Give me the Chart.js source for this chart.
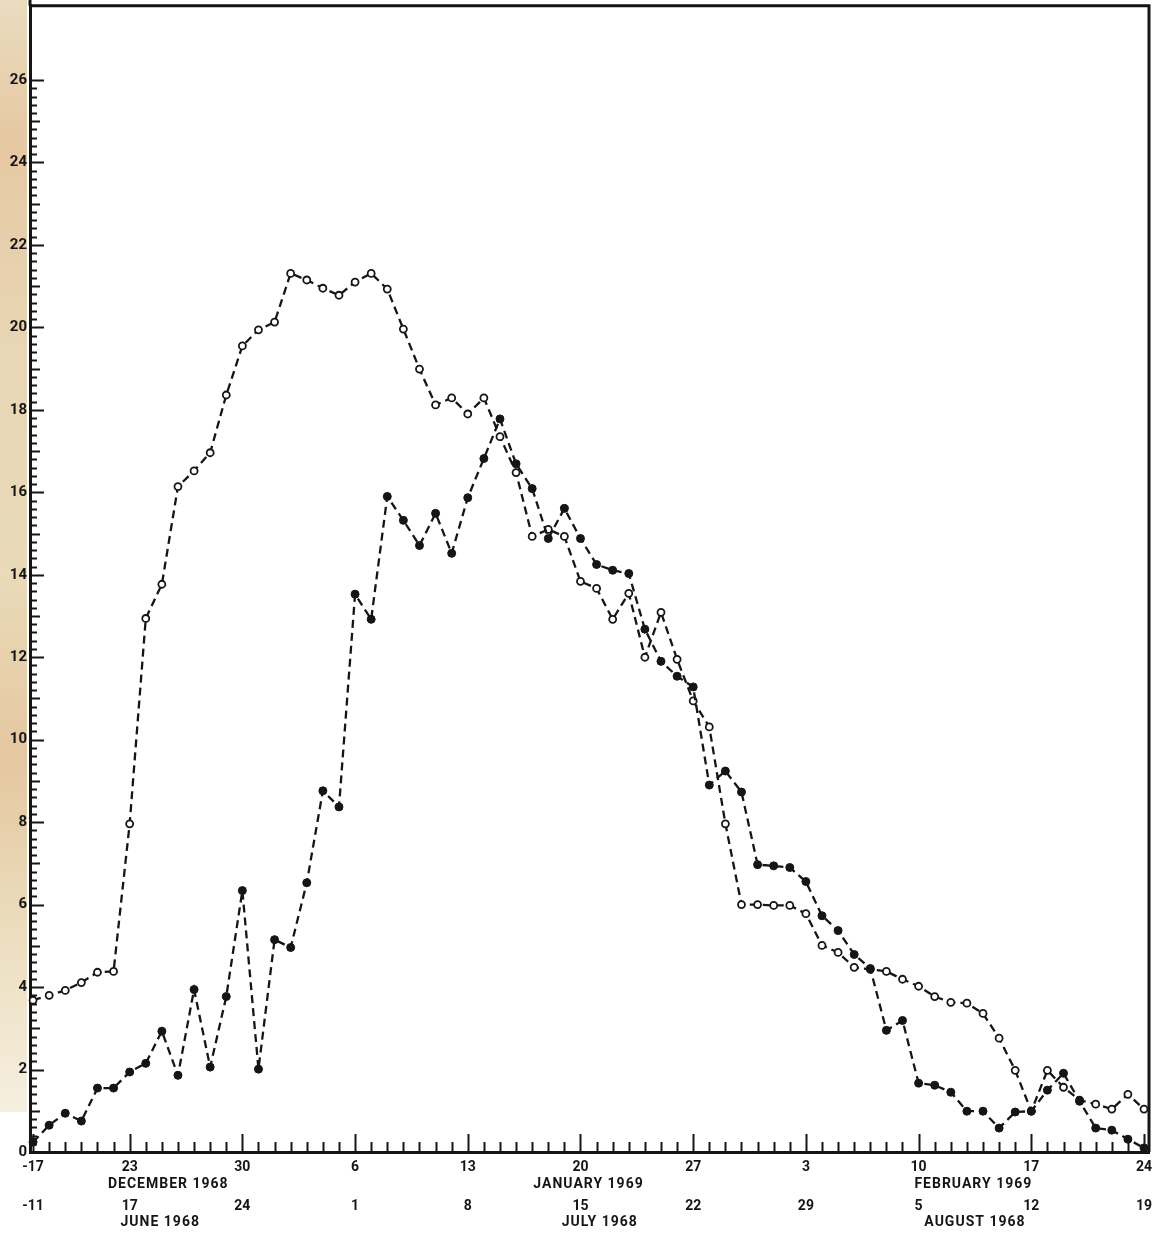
<!DOCTYPE html>
<html>
<head>
<meta charset="utf-8">
<script src="https://cdn.jsdelivr.net/npm/chart.js@4.4.0/dist/chart.umd.min.js"></script>
<style>
  html, body { margin: 0; padding: 0; background: #fff; }
</style>
</head>
<body>
<canvas id="chart" width="1161" height="1234"></canvas>
<script>
// day index 0 = 17 Dec 1968 (11 Jun 1968) ... 69 = 24 Feb 1969 (19 Aug 1968)
const openSeries = [
  3.68, 3.80, 3.92, 4.11, 4.36, 4.38, 7.96, 12.94, 13.77, 16.14,
  16.52, 16.96, 18.36, 19.55, 19.94, 20.13, 21.31, 21.15, 20.95, 20.78,
  21.10, 21.31, 20.93, 19.96, 18.99, 18.12, 18.29, 17.90, 18.29, 17.35,
  16.48, 14.93, 15.10, 14.93, 13.84, 13.67, 12.92, 13.55, 12.00, 13.09,
  11.95, 10.94, 10.31, 7.96, 6.00, 6.00, 5.98, 5.98, 5.78, 5.01,
  4.84, 4.48, 4.43, 4.38, 4.19, 4.02, 3.77, 3.63, 3.61, 3.36,
  2.76, 1.98, 0.99, 1.98, 1.57, 1.26, 1.16, 1.04, 1.40, 1.04
];
const filledSeries = [
  0.24, 0.65, 0.94, 0.75, 1.55, 1.55, 1.94, 2.15, 2.93, 1.86,
  3.94, 2.06, 3.77, 6.34, 2.01, 5.15, 4.96, 6.53, 8.76, 8.37,
  13.53, 12.92, 15.90, 15.32, 14.71, 15.49, 14.52, 15.87, 16.82, 17.78,
  16.69, 16.09, 14.88, 15.61, 14.88, 14.25, 14.11, 14.03, 12.68, 11.90,
  11.54, 11.28, 8.90, 9.24, 8.73, 6.97, 6.94, 6.90, 6.56, 5.73,
  5.37, 4.79, 4.45, 2.95, 3.19, 1.67, 1.62, 1.45, 0.99, 0.99,
  0.58, 0.97, 0.99, 1.50, 1.91, 1.23, 0.58, 0.53, 0.31, 0.10
];

const labelDays = [0, 6, 13, 20, 27, 34, 41, 48, 55, 62, 69];
const topDayLabels = ["-17", "23", "30", "6", "13", "20", "27", "3", "10", "17", "24"];
const bottomDayLabels = ["-11", "17", "24", "1", "8", "15", "22", "29", "5", "12", "19"];
const topMonths = ["DECEMBER 1968", "JANUARY 1969", "FEBRUARY 1969"];
const topMonthDays = [8.4, 34.5, 58.4];
const bottomMonths = ["JUNE 1968", "JULY 1968", "AUGUST 1968"];
const bottomMonthDays = [7.9, 35.2, 58.5];
const yLabelValues = [0, 2, 4, 6, 8, 10, 12, 14, 16, 18, 20, 22, 24, 26];

const FONT = "Roboto, 'DejaVu Sans', sans-serif";
const INK = "#151515";

function toPoints(arr) {
  return arr.map((v, i) => ({ x: i, y: v }));
}

// paper strip, inward axis ticks, frame and the second row of dates
const paperAxes = {
  id: "paperAxes",
  beforeDraw(chart) {
    const { ctx, chartArea: a } = chart;
    ctx.save();
    ctx.fillStyle = "#fff";
    ctx.fillRect(0, 0, chart.width, chart.height);
    const g = ctx.createLinearGradient(0, 0, 0, a.bottom);
    g.addColorStop(0, "#eadcc0");
    g.addColorStop(0.12, "#e6c8a2");
    g.addColorStop(0.3, "#e8d6b4");
    g.addColorStop(0.5, "#e9dab8");
    g.addColorStop(0.66, "#e5c7a0");
    g.addColorStop(0.8, "#ebdcbc");
    g.addColorStop(0.92, "#f3ead6");
    g.addColorStop(1, "#f8f3e8");
    ctx.fillStyle = g;
    ctx.fillRect(0, 0, a.left - 3, a.bottom - 40);
    ctx.restore();
  },
  afterDraw(chart) {
    const { ctx, chartArea: a, scales: { x, y } } = chart;
    ctx.save();
    ctx.strokeStyle = INK;
    ctx.lineWidth = 2;

    // y axis runs to the top edge of the sheet
    ctx.lineWidth = 3;
    ctx.beginPath();
    ctx.moveTo(a.left, 0);
    ctx.lineTo(a.left, a.top);
    ctx.stroke();
    ctx.lineWidth = 2;

    // daily ticks on the time axis, pointing up
    for (let d = 0; d <= 69; d++) {
      const px = Math.round(x.getPixelForValue(d)) + 0.5;
      const len = labelDays.includes(d) ? 18 : 10;
      ctx.beginPath();
      ctx.moveTo(px, a.bottom);
      ctx.lineTo(px, a.bottom - len);
      ctx.stroke();
    }

    // ticks every 0.2 on the value axis, pointing right
    for (let k = 0; k <= 130; k++) {
      const v = k / 5;
      const py = Math.round(y.getPixelForValue(v)) + 0.5;
      let len = 7;
      if (k % 10 === 0) len = 14;
      else if (k % 5 === 0) len = 10;
      ctx.beginPath();
      ctx.moveTo(a.left, py);
      ctx.lineTo(a.left + len, py);
      ctx.stroke();
    }

    // frame: top and right
    ctx.lineWidth = 3;
    ctx.beginPath();
    ctx.moveTo(a.left, a.top);
    ctx.lineTo(a.right, a.top);
    ctx.lineTo(a.right, a.bottom);
    ctx.stroke();

    // month names and the June-August dates
    ctx.fillStyle = INK;
    ctx.textAlign = "center";
    ctx.textBaseline = "middle";
    ctx.font = "bold 14px " + FONT;
    ctx.letterSpacing = "1px";
    topMonths.forEach((t, i) => ctx.fillText(t, x.getPixelForValue(topMonthDays[i]), 1184));
    bottomMonths.forEach((t, i) => ctx.fillText(t, x.getPixelForValue(bottomMonthDays[i]), 1222));
    ctx.letterSpacing = "0px";
    ctx.font = "bold 14px " + FONT;
    bottomDayLabels.forEach((t, i) => ctx.fillText(t, x.getPixelForValue(labelDays[i]), 1206));
    ctx.restore();
  }
};

const dashed = [8, 5];

new Chart(document.getElementById("chart"), {
  type: "line",
  data: {
    datasets: [
      {
        label: "filled",
        data: toPoints(filledSeries),
        borderColor: INK,
        borderWidth: 2.3,
        borderDash: dashed,
        pointRadius: 4,
        pointBackgroundColor: INK,
        pointBorderColor: INK,
        pointBorderWidth: 1,
        tension: 0,
        clip: false
      },
      {
        label: "open",
        data: toPoints(openSeries),
        borderColor: INK,
        borderWidth: 2.3,
        borderDash: dashed,
        pointRadius: 3.5,
        pointBackgroundColor: "#fff",
        pointBorderColor: INK,
        pointBorderWidth: 1.8,
        tension: 0,
        clip: false
      }
    ]
  },
  options: {
    responsive: false,
    animation: false,
    layout: { padding: { top: 0, right: 12, left: 0, bottom: 0 } },
    plugins: { legend: { display: false }, tooltip: { enabled: false } },
    scales: {
      x: {
        type: "linear",
        min: -0.19,
        max: 69.31,
        afterFit(s) { s.height = 82; s.paddingLeft = 0; s.paddingRight = 0; },
        afterBuildTicks(s) { s.ticks = labelDays.map(v => ({ value: v })); },
        grid: { display: false, drawTicks: false },
        border: { display: true, color: INK, width: 3 },
        ticks: {
          autoSkip: false,
          maxRotation: 0,
          padding: 7,
          color: INK,
          font: { family: FONT, size: 14, weight: "bold" },
          callback: (v) => topDayLabels[labelDays.indexOf(v)]
        }
      },
      y: {
        type: "linear",
        min: 0,
        max: 27.8,
        afterFit(s) { s.width = 30; s.paddingTop = 0; s.paddingBottom = 0; },
        afterBuildTicks(s) { s.ticks = yLabelValues.map(v => ({ value: v })); },
        grid: { display: false, drawTicks: false },
        border: { display: true, color: INK, width: 3 },
        ticks: {
          padding: 3,
          color: INK,
          font: { family: FONT, size: 15, weight: "bold" },
          callback: (v) => String(v)
        }
      }
    }
  },
  plugins: [paperAxes]
});
</script>
</body>
</html>
